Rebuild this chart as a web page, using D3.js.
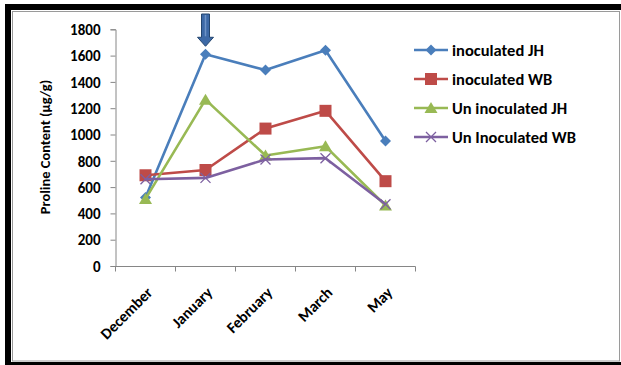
<!DOCTYPE html>
<html>
<head>
<meta charset="utf-8">
<script src="https://cdn.jsdelivr.net/npm/d3@7/dist/d3.min.js"></script>
<style>
  html, body { margin: 0; padding: 0; background: #fff; }
  svg { display: block; }
  text { font-family: Calibri, Carlito, Lato, "Open Sans", sans-serif; font-weight: bold; fill: #000; }
</style>
</head>
<body>
<svg id="chart" width="621" height="365"></svg>
<script>
// Sampling months
const months = ["December", "January", "February", "March", "May"];

// Proline content (µg/g) per treatment
const inoculatedJH   = [520, 1610, 1490, 1640, 950];
const inoculatedWB   = [690, 730, 1045, 1180, 645];
const uninoculatedJH = [510, 1265, 840, 910, 460];
const uninoculatedWB = [660, 670, 810, 820, 470];

const seriesNames  = ["inoculated JH", "inoculated WB", "Un inoculated JH", "Un Inoculated WB"];
const seriesValues = [inoculatedJH, inoculatedWB, uninoculatedJH, uninoculatedWB];
const yTicks = [0, 200, 400, 600, 800, 1000, 1200, 1400, 1600, 1800];

const colors  = ["#4a7ebb", "#be4b48", "#98b954", "#7d60a0"];
const markers = ["diamond", "square", "triangle", "cross"];

const svg = d3.select("#chart");

// Frame
svg.append("rect").attr("x", 0).attr("y", 0).attr("width", 621).attr("height", 365).attr("fill", "#fff");
svg.append("rect").attr("x", 5).attr("y", 4).attr("width", 616).attr("height", 6).attr("fill", "#000");
svg.append("rect").attr("x", 5).attr("y", 4).attr("width", 6).attr("height", 361).attr("fill", "#000");
svg.append("rect").attr("x", 5).attr("y", 362).attr("width", 616).attr("height", 3).attr("fill", "#000");
svg.append("rect").attr("x", 12.5).attr("y", 11.5).attr("width", 607).attr("height", 349.5)
  .attr("fill", "none").attr("stroke", "#9a9a9a").attr("stroke-width", 1);

// Scales
const x = d3.scaleBand().domain(months).range([115.5, 415.5]);
const y = d3.scaleLinear().domain([0, 1800]).range([266, 29.3]);

// Y axis
const yAxis = d3.axisLeft(y).tickValues(yTicks).tickSize(5).tickFormat(d3.format("d"));
const gy = svg.append("g").attr("transform", "translate(115.5,0)").call(yAxis);
gy.select(".domain").attr("stroke", "#868686");
gy.selectAll(".tick line").attr("stroke", "#868686");
gy.selectAll(".tick text").style("font-size", "15px").attr("x", -15).attr("dy", "0.35em");

// X axis with ticks at band edges
const gx = svg.append("g").attr("transform", "translate(0,266.5)");
gx.append("line").attr("x1", x.range()[0]).attr("x2", x.range()[1])
  .attr("stroke", "#868686");
const edges = months.map(m => x(m)).concat([x.range()[1]]);
gx.selectAll("line.edge").data(edges).join("line").attr("class", "edge")
  .attr("x1", d => d).attr("x2", d => d).attr("y1", 0).attr("y2", 5).attr("stroke", "#868686");
gx.selectAll("text").data(months).join("text")
  .attr("transform", d => `translate(${x(d) + x.bandwidth() / 2 + 8},${27}) rotate(-45)`)
  .attr("text-anchor", "end")
  .style("font-size", "15.5px")
  .text(d => d);

// Y axis title
svg.append("text")
  .attr("transform", "translate(50,147) rotate(-90)")
  .attr("text-anchor", "middle")
  .style("font-size", "14.5px")
  .text("Proline Content (µg/g)");

// Marker drawing
function drawMarker(g, type, color) {
  if (type === "diamond") {
    g.append("path").attr("d", "M0,-5.5L5.5,0L0,5.5L-5.5,0Z").attr("fill", color);
  } else if (type === "square") {
    g.append("rect").attr("x", -6).attr("y", -6).attr("width", 12).attr("height", 12).attr("fill", color);
  } else if (type === "triangle") {
    g.append("path").attr("d", "M0,-6L6.5,5L-6.5,5Z").attr("fill", color);
  } else {
    g.append("path").attr("d", "M-5,-5L5,5M-5,5L5,-5").attr("stroke", color).attr("stroke-width", 1.3).attr("fill", "none");
  }
}

const line = d3.line().x((d, i) => x(months[i]) + x.bandwidth() / 2).y(d => y(d));

seriesValues.forEach((vals, s) => {
  svg.append("path").datum(vals).attr("d", line)
    .attr("fill", "none").attr("stroke", colors[s]).attr("stroke-width", 2.6)
    .attr("stroke-linejoin", "round");
  vals.forEach((v, i) => {
    const g = svg.append("g").attr("transform", `translate(${x(months[i]) + x.bandwidth() / 2},${y(v)})`);
    drawMarker(g, markers[s], colors[s]);
  });
});

// Legend
const legend = svg.append("g");
seriesNames.forEach((name, s) => {
  const ly = 50 + s * 29;
  legend.append("line").attr("x1", 414).attr("x2", 448).attr("y1", ly).attr("y2", ly)
    .attr("stroke", colors[s]).attr("stroke-width", 2.6);
  const g = legend.append("g").attr("transform", `translate(431,${ly})`);
  drawMarker(g, markers[s], colors[s]);
  legend.append("text").attr("x", 452).attr("y", ly + 5.5).style("font-size", "16.5px").text(name);
});

// Arrow pointing at the January peak
const ax = x("January") + x.bandwidth() / 2;
const tipY = y(inoculatedJH[1]) - 8;
svg.append("path")
  .attr("d", `M${ax - 4},14L${ax + 4},14L${ax + 4},${tipY - 9}L${ax + 8},${tipY - 9}L${ax},${tipY}L${ax - 8},${tipY - 9}L${ax - 4},${tipY - 9}Z`)
  .attr("fill", "#3d69a6").attr("stroke", "#24466f").attr("stroke-width", 1);
svg.append("line").attr("x1", ax).attr("x2", ax).attr("y1", 15).attr("y2", tipY - 10)
  .attr("stroke", "#6d93c7").attr("stroke-width", 1.5);
</script>
</body>
</html>
